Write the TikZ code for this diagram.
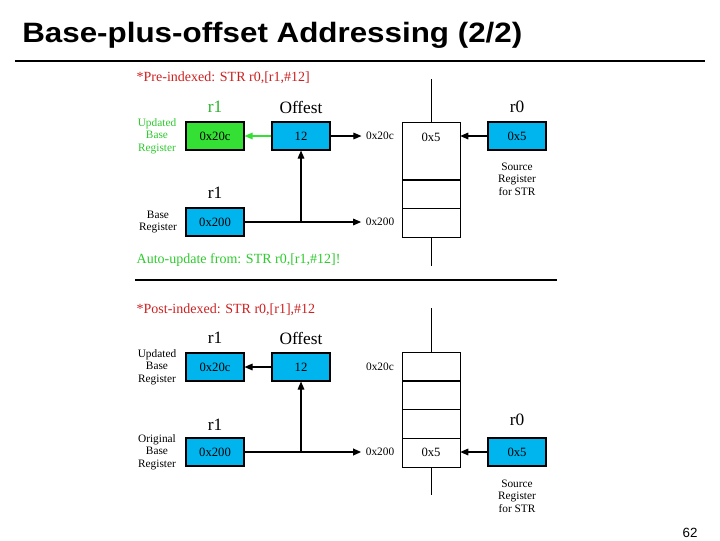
\documentclass[tikz,border=0pt]{standalone}
\usepackage{fontspec}
\setmainfont{Liberation Serif}
\newfontfamily\titlefont{Liberation Sans}
\usetikzlibrary{arrows.meta}
\definecolor{regc}{HTML}{00B4EE}
\definecolor{updg}{HTML}{33E033}
\definecolor{redt}{HTML}{CC2020}
\begin{document}
\begin{tikzpicture}[x=0.75pt,y=-0.75pt,
  reg/.style={draw,thick,fill=regc,minimum width=43.5pt,minimum height=21pt,inner sep=0pt,font=\fontsize{9.5}{9.5}\selectfont},
  cell/.style={draw,minimum width=43.5pt,inner sep=0pt,font=\fontsize{9.5}{9.5}\selectfont},
  big/.style={font=\fontsize{13}{13}\selectfont},
  sm/.style={font=\fontsize{8.5}{9.5}\selectfont,align=center,inner sep=1pt},
  addr/.style={font=\fontsize{8.5}{8.5}\selectfont},
  arr/.style={-{Triangle[length=6pt,width=5pt]},thick},
  note/.style={anchor=west,font=\fontsize{10.5}{10.5}\selectfont}]
\useasboundingbox (0,0) rectangle (720,540);
\node[anchor=west,font=\titlefont\bfseries\fontsize{21}{21}\selectfont,xscale=1.12] (title) at (17,35) {Base-plus-offset Addressing (2/2)};
\draw[line width=1.5pt] (15,61) -- (705,61);
% ---------- top ----------
\node[note,text=redt] (pre) at (132,78) {*Pre-indexed: STR r0,[r1,\#12]};
\node[big,text=updg!80!black] (lr1a) at (215,107) {r1};
\node[big] (loffa) at (301,107) {Offest};
\node[big] (lr0a) at (517,107) {r0};
\node[reg,fill=updg] (upa) at (215,136) {0x20c};
\node[reg] (offa) at (301,136) {12};
\node[sm,text=updg!90!black] (tupa) at (157,136) {Updated\\Base\\Register};
\draw (431,79) -- (431,122);
\draw (431,237) -- (431,266);
\node[cell,minimum height=43.5pt] (ma1) at (431,151) {};
\node[font=\fontsize{9.5}{9.5}\selectfont] at (431,137) {0x5};
\node[cell,minimum height=21.75pt] (ma2) at (431,194) {};
\node[cell,minimum height=21.75pt] (ma3) at (431,223) {};
\node[reg] (r0a) at (517,136) {0x5};
\node[sm] (tsa) at (517,179) {Source\\Register\\for STR};
\node[addr] (a20ca) at (380,136) {0x20c};
\node[addr] (a200a) at (380,222) {0x200};
\node[big] (lr1b) at (215,193) {r1};
\node[reg] (basea) at (215,222) {0x200};
\node[sm] (tbasea) at (158,222) {Base\\Register};
\coordinate (ja) at (301,222);
\draw[arr,draw=updg,-{Triangle[length=6pt,width=5pt,fill=updg]}] (offa.west) -- (upa.east);
\draw[arr] (offa.east) -- (offa.east -| a20ca.west);
\draw[arr] (r0a.west) -- (r0a.west -| ma1.east);
\draw[arr] (basea.east) -- (basea.east -| a200a.west);
\draw[arr] (ja) -- (offa.south);
\node[note,text=updg!90!black] (auto) at (132,260) {Auto-update from: STR r0,[r1,\#12]!};
\draw[line width=1.5pt] (135,280) -- (557,280);
% ---------- bottom ----------
\node[note,text=redt] (post) at (132,310) {*Post-indexed: STR r0,[r1],\#12};
\node[big] (lr1c) at (215,338) {r1};
\node[big] (loffc) at (301,338) {Offest};
\node[reg] (upc) at (215,367) {0x20c};
\node[reg] (offc) at (301,367) {12};
\node[sm] (tupc) at (157,367) {Updated\\Base\\Register};
\draw (431,308) -- (431,352);
\draw (431,467) -- (431,495);
\node[cell,minimum height=21.75pt] (mc1) at (431,366.5) {};
\node[cell,minimum height=21.75pt] (mc2) at (431,395) {};
\node[cell,minimum height=21.75pt] (mc3) at (431,423.5) {};
\node[cell,minimum height=21.75pt] (mc4) at (431,452.5) {0x5};
\node[addr] (a20cc) at (380,367) {0x20c};
\node[addr] (a200c) at (380,452) {0x200};
\node[big] (lr1d) at (215,425) {r1};
\node[reg] (basec) at (215,452) {0x200};
\node[sm] (tbasec) at (157,452) {Original\\Base\\Register};
\node[big] (lr0c) at (517,420) {r0};
\node[reg] (r0c) at (517,452) {0x5};
\node[sm] (tsc) at (517,496) {Source\\Register\\for STR};
\coordinate (jc) at (301,452);
\draw[arr] (offc.west) -- (upc.east);
\draw[arr] (r0c.west) -- (r0c.west -| mc4.east);
\draw[arr,line width=1.2pt] (basec.east) -- (basec.east -| a200c.west);
\draw[arr] (jc) -- (offc.south);
\node[font=\titlefont\fontsize{10}{10}\selectfont] (pg) at (690,533) {62};
\end{tikzpicture}
\end{document}
